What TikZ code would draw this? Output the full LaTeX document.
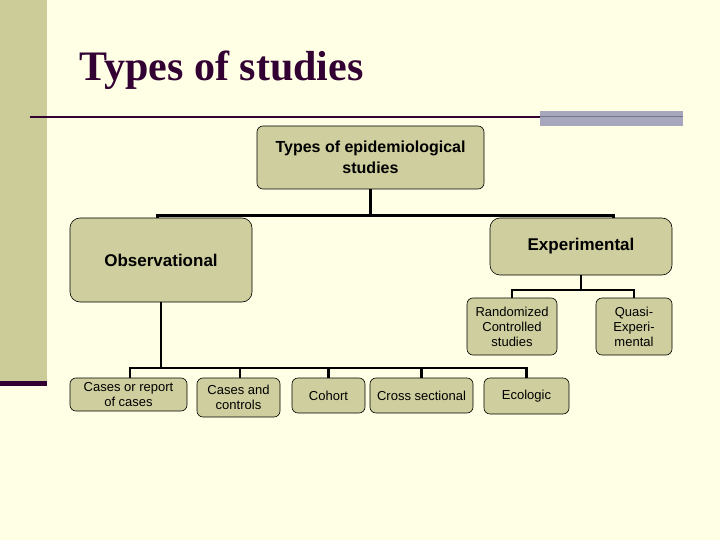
\documentclass[tikz,border=0pt]{standalone}
\usepackage{fontspec}
\setmainfont{Liberation Sans}
\newfontfamily\serifb{Liberation Serif}
\definecolor{bg}{HTML}{FFFFE6}
\definecolor{tan}{HTML}{CCCC99}
\definecolor{boxf}{HTML}{CECE9E}
\definecolor{purp}{HTML}{330033}
\definecolor{grayb}{HTML}{A6A6BC}
\begin{document}
\begin{tikzpicture}[x=1pt,y=-1pt,
  bx/.style={draw=black,fill=boxf,rounded corners=6pt,line width=0.6pt,align=center,inner sep=0pt,font=\fontsize{13}{15}\selectfont},
  conn/.style={line width=2.2pt}]
\fill[bg] (0,0) rectangle (720,540);
\useasboundingbox (0,0) rectangle (720,540);
\fill[tan] (0,0) rectangle (47,383);
\fill[purp] (0,381) rectangle (47,386);
\node[anchor=west,text=purp,font=\serifb\bfseries\fontsize{42}{46}\selectfont] (title) at (76,70) {Types of studies};
\fill[grayb] (540,111) rectangle (683,126);
\draw[purp,line width=2.5pt] (30,117) -- (540,117);
\draw[grayb!70!black,line width=1pt] (540,117) -- (683,117);
% boxes
\node[bx,minimum width=227pt,minimum height=63pt,font=\bfseries\fontsize{16}{21}\selectfont] (top) at (370.5,157.5) {Types of epidemiological\\studies};
\node[bx,minimum width=182pt,minimum height=84pt,font=\bfseries\fontsize{17}{20}\selectfont,rounded corners=10pt] (obs) at (161,260) {\raisebox{-2pt}{Observational}};
\node[bx,minimum width=182pt,minimum height=57pt,font=\bfseries\fontsize{17}{20}\selectfont,rounded corners=10pt] (exp) at (581,246.5) {Experimental};
\node[bx,minimum width=90pt,minimum height=57pt] (rct) at (512,326.5) {Randomized\\Controlled\\studies};
\node[bx,minimum width=76pt,minimum height=57pt] (quasi) at (634,326.5) {Quasi-\\Experi-\\mental};
\node[bx,minimum width=117pt,minimum height=33pt] (b1) at (128.5,394.5) {Cases or report\\of cases};
\node[bx,minimum width=83pt,minimum height=39pt] (b2) at (238.5,397.5) {Cases and\\controls};
\node[bx,minimum width=73pt,minimum height=35pt] (b3) at (328.5,395.5) {Cohort};
\node[bx,minimum width=103pt,minimum height=35pt] (b4) at (421.5,395.5) {Cross sectional};
\node[bx,minimum width=85pt,minimum height=36pt] (b5) at (526.5,396) {Ecologic};
% connectors
\coordinate (j1) at (370.5,216);
\draw[conn] (top.south) -- (j1);
\draw[line width=3pt] (obs.north -| 157,0) |- (j1) -| (exp.north -| 613,0);
\coordinate (j2) at (581,290);
\draw[conn] (exp.south) -- (j2);
\draw[conn] (rct.north) |- (j2) -| (quasi.north);
\coordinate (j3) at (161,368);
\draw[conn] (obs.south) -- (j3);
\draw[conn] (b1.north -| 130,0) |- (j3) -| (b5.north);
\draw[conn] (b2.north -| 240,0) -- (240,368);
\draw[conn] (b3.north) -- (328.5,368);
\draw[conn] (b4.north) -- (421.5,368);
\end{tikzpicture}
\end{document}
